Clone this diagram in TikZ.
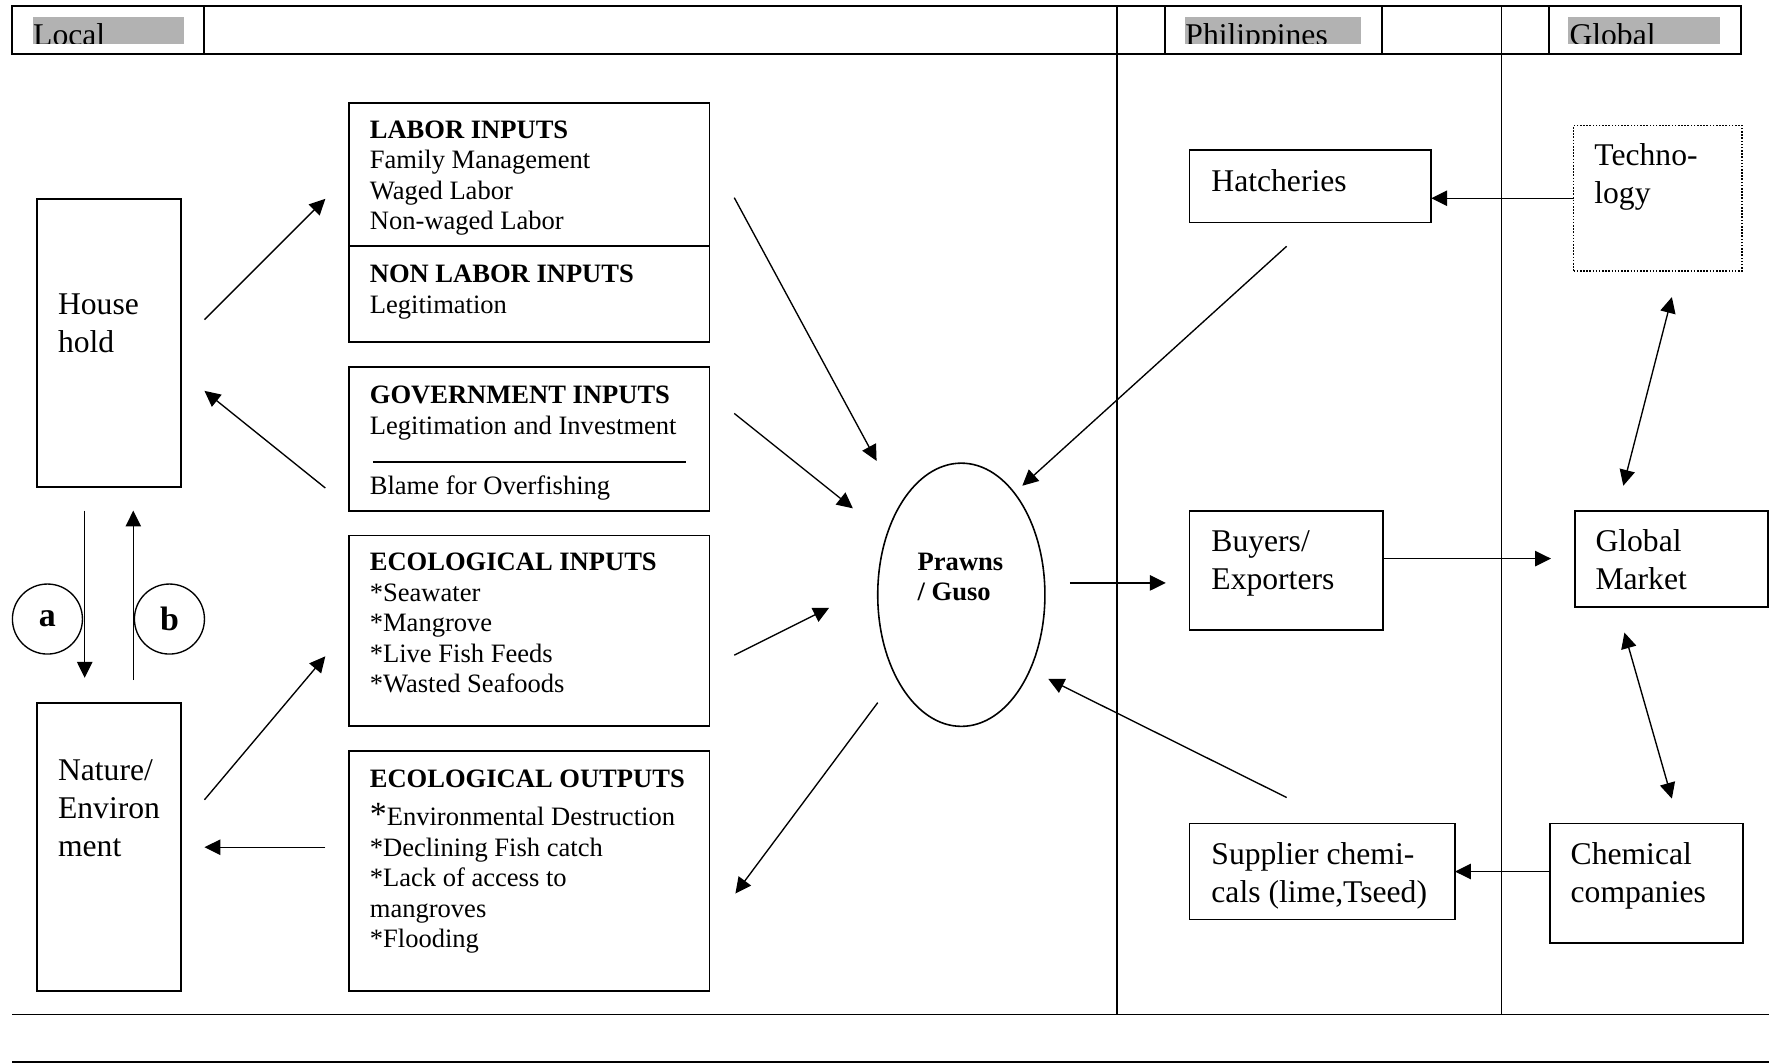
\documentclass[tikz,border=0pt]{standalone}
\usepackage{fontspec}
\setmainfont{Liberation Serif}
\usetikzlibrary{arrows.meta,positioning,shapes.geometric}

\tikzset{
  box/.style={draw, line width=0.8pt, anchor=north west, inner sep=0pt, outer sep=0pt},
  txt/.style={anchor=north west, inner sep=0pt, align=left, font=\fontsize{11.75}{13.5}\selectfont},
  bigtxt/.style={anchor=north west, inner sep=0pt, align=left, font=\fontsize{14}{16.75}\selectfont},
  flow/.style={->, line width=0.6pt},
  rule/.style={line width=0.7pt},
  tag/.style={draw, circle, line width=0.6pt, minimum size=31pt, inner sep=0pt, font=\fontsize{15}{18}\selectfont\bfseries}
}
\newcommand{\bigast}{{\fontsize{15}{13.5}\selectfont *}}

\begin{document}
\begin{tikzpicture}[x=0.5pt, y=-0.5pt, >={Triangle[length=7pt,width=6.8pt]}]
    \useasboundingbox (0,0) rectangle (1566,941);

    \fill[black!30] (29,15.3) rectangle (163,38.6);
    \fill[black!30] (1049,15.3) rectangle (1205,38.6);
    \fill[black!30] (1388,15.3) rectangle (1523,38.6);
    \begin{scope}
        \clip (0,0) rectangle (1566,38.6);
        \node[bigtxt] (localhd) at (29,16.5) {\strut Local};
        \node[bigtxt] (philhd) at (1049,16.5) {\strut Philippines};
        \node[bigtxt] (globalhd) at (1389,16.5) {\strut Global};
    \end{scope}
    \draw[line width=0.9pt] (11,5.5) rectangle (1541,48);
    \foreach \x in {181,1031,1223,1371}
        \draw[line width=0.9pt] (\x,5.5) -- (\x,48);
    \draw[rule] (989,5.5) -- (989,898);
    \draw[rule] (1329,5.5) -- (1329,898);
    \draw[rule] (11,898) -- (1566,898);
    \draw[rule] (11,940) -- (1566,940);

    \node[box, minimum width=63.5pt, minimum height=127.5pt] (house) at (33,176) {};
    \node[bigtxt] (housetxt) at ([shift={(18,78.5)}]house.north west) {\strut House\\hold};
    \node[box, minimum width=63.5pt, minimum height=127.5pt] (nature) at (33,622) {};
    \node[bigtxt] (naturetxt) at ([shift={(18,45.5)}]nature.north west) {\strut Nature/\\Environ\\ment};

    \node[tag] (a) at (42,548) {a};
    \node[tag] (b) at (150,548) {b};

    \node[box, minimum width=159.5pt, minimum height=106pt] (labor) at (309,91) {};
    \draw[line width=0.8pt] ([yshift=-10.5pt]labor.west) -- ([yshift=-10.5pt]labor.east);
    \node[txt] (labortxt) at ([shift={(18,12.1)}]labor.north west) {\strut\textbf{LABOR INPUTS}\\Family Management\\Waged Labor\\Non-waged Labor};
    \node[txt] (nonlabortxt) at ([shift={(18,140.1)}]labor.north west) {\strut\textbf{NON LABOR INPUTS}\\Legitimation};

    \node[box, minimum width=159.5pt, minimum height=63.5pt] (govt) at (309,325) {};
    \draw[rule] ([shift={(21,20.5)}]govt.west) -- ([shift={(-21,20.5)}]govt.east);
    \node[txt] (govttxt) at ([shift={(18,13.1)}]govt.north west) {\strut\textbf{GOVERNMENT INPUTS}\\Legitimation and Investment};
    \node[txt] (blametxt) at ([shift={(18,93.1)}]govt.north west) {\strut Blame for Overfishing};

    \node[box, minimum width=159.5pt, minimum height=84.5pt] (ecoin) at (309,474) {};
    \node[txt] (ecointxt) at ([shift={(18,12.1)}]ecoin.north west) {\strut\textbf{ECOLOGICAL INPUTS}\\*Seawater\\*Mangrove\\*Live Fish Feeds\\*Wasted Seafoods};

    \node[box, minimum width=159.5pt, minimum height=106pt] (ecoout) at (309,665) {};
    \node[txt] (ecoouttxt) at ([shift={(18,13.1)}]ecoout.north west) {\strut\textbf{ECOLOGICAL OUTPUTS}\\[2pt]\bigast Environmental Destruction\\*Declining Fish catch\\*Lack of access to\\mangroves\\*Flooding};

    \node[draw, ellipse, line width=0.7pt, minimum width=74pt, minimum height=116.5pt, inner sep=0pt] (prawns) at (851,526.5) {};
    \node[txt, font=\fontsize{11.75}{13.5}\selectfont\bfseries] (prawnstxt) at (812,485.5) {\strut Prawns\\/ Guso};

    \node[box, minimum width=107pt, minimum height=32pt] (hatch) at (1053,133) {};
    \node[bigtxt] (hatchtxt) at ([shift={(19,12.5)}]hatch.north west) {\strut Hatcheries};
    \node[box, line width=0.7pt, dash pattern=on 0.7pt off 0.7pt, minimum width=74.5pt, minimum height=64.5pt] (tech) at (1393,111) {};
    \node[bigtxt] (techtxt) at ([shift={(18,12)}]tech.north west) {\strut Techno-\\logy};
    \node[box, minimum width=85.5pt, minimum height=53pt] (buyers) at (1053,452) {};
    \node[bigtxt] (buyerstxt) at ([shift={(19,12.5)}]buyers.north west) {\strut Buyers/\\Exporters};
    \node[box, minimum width=85.5pt, minimum height=42.5pt] (mkt) at (1394,452) {};
    \node[bigtxt] (mkttxt) at ([shift={(18,12.5)}]mkt.north west) {\strut Global\\Market};
    \node[box, minimum width=117.5pt, minimum height=42.5pt] (supplier) at (1053,729) {};
    \node[bigtxt] (suppliertxt) at ([shift={(19,12.5)}]supplier.north west) {\strut Supplier chemi-\\cals (lime,Tseed)};
    \node[box, minimum width=85.5pt, minimum height=53pt] (chem) at (1372,729) {};
    \node[bigtxt] (chemtxt) at ([shift={(18,12.5)}]chem.north west) {\strut Chemical\\companies};

    \coordinate (houseout) at (181,283);
    \coordinate (laborin) at (288,176);
    \coordinate (govtout) at (288,432);
    \coordinate (housein) at (181,346);
    \coordinate (natureout) at (181,708);
    \coordinate (ecoinin) at (288,581);
    \coordinate (ecooutout) at (288,750);
    \coordinate (naturein) at (181,750);
    \coordinate (aup) at (75,452);
    \coordinate (adown) at (75,600);
    \coordinate (bdown) at (118,602);
    \coordinate (bup) at (118,452);
    \coordinate (laborout) at (650,175);
    \coordinate (prawnsnw) at (776,408);
    \coordinate (govtright) at (650,366);
    \coordinate (prawnsw) at (755,450);
    \coordinate (ecoinout) at (650,580);
    \coordinate (prawnssw) at (734,538);
    \coordinate (prawnsout) at (777,622);
    \coordinate (ecooutin) at (651,791);
    \coordinate (hatchout) at (1139,218);
    \coordinate (prawnsne) at (905,430);
    \coordinate (supplierout) at (1139,706);
    \coordinate (prawnsse) at (928,601);
    \coordinate (prawnse) at (947,516);
    \coordinate (buyersin) at (1032,516);
    \coordinate (techlow) at (1480,263);
    \coordinate (mkttop) at (1437,430);
    \coordinate (mktlow) at (1438,560);
    \coordinate (chemtop) at (1480,707);

    \draw[flow] (houseout) -- (laborin);
    \draw[flow] (govtout) -- (housein);
    \draw[flow] (natureout) -- (ecoinin);
    \draw[flow] (ecooutout) -- (naturein);
    \draw[flow] (aup) -- (adown);
    \draw[flow] (bdown) -- (bup);
    \draw[flow] (laborout) -- (prawnsnw);
    \draw[flow] (govtright) -- (prawnsw);
    \draw[flow] (ecoinout) -- (prawnssw);
    \draw[flow] (prawnsout) -- (ecooutin);
    \draw[flow] (hatchout) -- (prawnsne);
    \draw[flow] (supplierout) -- (prawnsse);
    \draw[flow] (prawnse) -- (buyersin);
    \draw[flow] (buyers.east |- mkt.west) -- ([xshift=-10.5pt]mkt.west);
    \draw[flow] (tech.west) -- (tech.west -| hatch.east);
    \draw[flow] (chem.west |- supplier.east) -- (supplier.east);
    \draw[<->, line width=0.6pt] (techlow) -- (mkttop);
    \draw[<->, line width=0.6pt] (mktlow) -- (chemtop);
\end{tikzpicture}
\end{document}
